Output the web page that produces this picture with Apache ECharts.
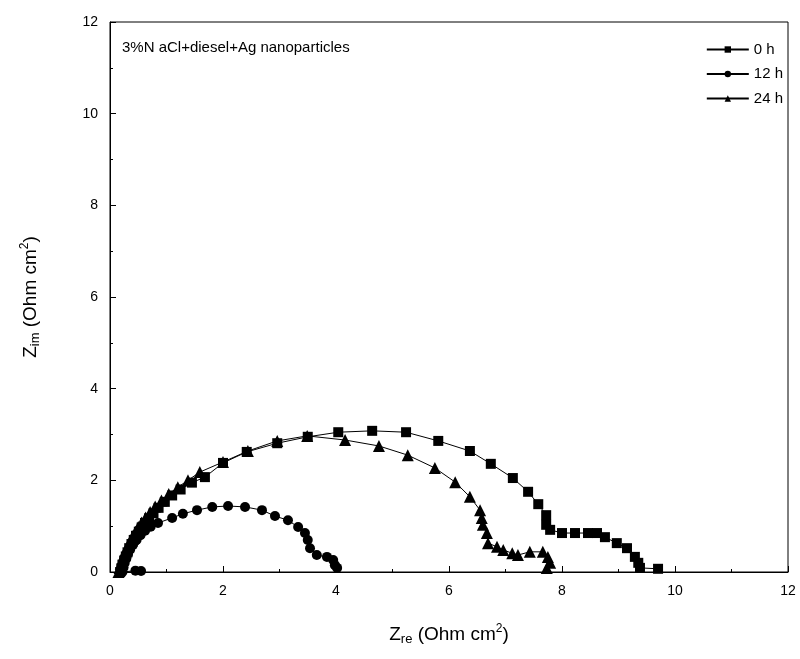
<!DOCTYPE html>
<html>
<head>
<meta charset="utf-8">
<script src="https://cdn.jsdelivr.net/npm/echarts@6/dist/echarts.min.js"></script>
<style>html,body{margin:0;padding:0;background:#fff;}#c{width:800px;height:659px;}</style>
</head>
<body>
<div id="c"></div>
<script>
var seriesNames = ['0 h', '12 h', '24 h'];
var annotation = '3%N aCl+diesel+Ag nanoparticles';
var xTicks = [0, 2, 4, 6, 8, 10, 12];
var yTicks = [0, 2, 4, 6, 8, 10, 12];

var s0h = [
  [0.18,0.0],[0.2,0.08],[0.22,0.16],[0.25,0.25],[0.28,0.34],[0.31,0.43],[0.34,0.52],[0.38,0.61],
  [0.42,0.70],[0.46,0.79],[0.51,0.88],[0.56,0.97],[0.62,1.07],[0.69,1.17],[0.77,1.28],[0.86,1.40],
  [0.97,1.53],[1.1,1.67],[1.25,1.80],[1.45,1.95],[1.68,2.07],[2.0,2.38],[2.42,2.62],[2.96,2.81],
  [3.5,2.95],[4.04,3.05],[4.64,3.08],[5.24,3.05],[5.81,2.86],[6.37,2.64],[6.74,2.36],[7.13,2.05],
  [7.40,1.75],[7.58,1.48],[7.72,1.24],[7.72,1.03],[7.79,0.92],[8.0,0.85],[8.23,0.85],[8.46,0.85],
  [8.62,0.85],[8.76,0.76],[8.97,0.63],[9.15,0.52],[9.29,0.33],[9.35,0.2],[9.38,0.09],[9.70,0.07]
];
var s12h = [
  [0.55,0.02],[0.45,0.03],[0.22,0.0],[0.24,0.1],[0.26,0.2],[0.29,0.3],[0.32,0.4],[0.36,0.5],
  [0.41,0.6],[0.47,0.7],[0.54,0.8],[0.62,0.9],[0.72,0.99],[0.85,1.07],[1.1,1.18],[1.29,1.27],
  [1.54,1.35],[1.81,1.42],[2.09,1.44],[2.39,1.42],[2.69,1.35],[2.92,1.22],[3.15,1.13],[3.33,0.98],
  [3.45,0.85],[3.5,0.70],[3.54,0.52],[3.66,0.37],[3.84,0.33],[3.95,0.26],[3.98,0.15],[4.02,0.09]
];
var s24h = [
  [0.15,0.0],[0.17,0.09],[0.19,0.18],[0.22,0.28],[0.25,0.38],[0.28,0.48],[0.32,0.58],[0.36,0.68],
  [0.4,0.78],[0.45,0.88],[0.5,0.98],[0.56,1.08],[0.63,1.19],[0.71,1.31],[0.8,1.43],[0.91,1.56],
  [1.04,1.70],[1.2,1.85],[1.38,2.0],[1.59,2.18],[2.0,2.40],[2.44,2.64],[2.96,2.86],[3.49,2.97],
  [4.16,2.88],[4.76,2.75],[5.27,2.55],[5.75,2.27],[6.11,1.96],[6.37,1.64],[6.55,1.35],[6.58,1.18],
  [6.60,1.03],[6.67,0.85],[6.69,0.63],[6.85,0.55],[6.96,0.48],[7.12,0.41],[7.22,0.37],[7.43,0.44],
  [7.66,0.44],[7.75,0.33],[7.79,0.2],[7.73,0.09]
];

var chart = echarts.init(document.getElementById('c'), null, {renderer: 'canvas'});
var font = 'Liberation Sans, Arial, sans-serif';
var nameRich = {
  base: {fontSize: 19, fontFamily: font, color: '#000'},
  sub: {fontSize: 13, fontFamily: font, color: '#000', verticalAlign: 'bottom', padding: [10, 0, 0, 0]},
  sup: {fontSize: 12, fontFamily: font, color: '#000', verticalAlign: 'top', padding: [0, 0, 10, 0]}
};
function mkSeries(name, data, symbol, size) {
  return {
    name: name, type: 'line', data: data, symbol: symbol, symbolSize: size,
    showAllSymbol: true, smooth: false,
    lineStyle: {color: '#000', width: 1},
    itemStyle: {color: '#000', borderWidth: 0},
    emphasis: {disabled: true}, animation: false
  };
}
chart.setOption({
  backgroundColor: '#fff',
  animation: false,
  grid: {left: 110, right: 12, top: 22, bottom: 87, show: true, borderColor: '#000', borderWidth: 1, backgroundColor: 'transparent'},
  xAxis: {
    type: 'value', min: xTicks[0], max: xTicks[xTicks.length - 1], interval: 2,
    name: '{base|Z}{sub|re}{base| (Ohm cm}{sup|2}{base|)}',
    nameLocation: 'middle', nameGap: 51,
    nameTextStyle: {rich: nameRich},
    axisLine: {show: true, lineStyle: {color: '#000', width: 1}},
    axisTick: {show: true, inside: true, length: 6, lineStyle: {color: '#000'}},
    minorTick: {show: true, splitNumber: 2, length: 3, lineStyle: {color: '#000'}},
    splitLine: {show: false},
    axisLabel: {color: '#000', fontSize: 14, fontFamily: font, margin: 12}
  },
  yAxis: {
    type: 'value', min: yTicks[0], max: yTicks[yTicks.length - 1], interval: 2,
    name: '{base|Z}{sub|im}{base| (Ohm cm}{sup|2}{base|)}',
    nameLocation: 'middle', nameGap: 68, nameRotate: 90,
    nameTextStyle: {rich: nameRich},
    axisLine: {show: true, lineStyle: {color: '#000', width: 1}},
    axisTick: {show: true, inside: true, length: 6, lineStyle: {color: '#000'}},
    minorTick: {show: true, splitNumber: 2, length: 3, lineStyle: {color: '#000'}},
    splitLine: {show: false},
    axisLabel: {color: '#000', fontSize: 14, fontFamily: font, margin: 12}
  },
  legend: {
    orient: 'vertical', right: 12, top: 37,
    itemWidth: 42, itemHeight: 8, itemGap: 9.5,
    textStyle: {color: '#000', fontSize: 15, fontFamily: font},
    data: seriesNames
  },
  graphic: [{
    type: 'text', left: 122, top: 40,
    style: {text: annotation, fill: '#000', fontSize: 15, fontFamily: font}
  }],
  series: [
    mkSeries(seriesNames[0], s0h, 'rect', 10),
    mkSeries(seriesNames[1], s12h, 'circle', 10),
    mkSeries(seriesNames[2], s24h, 'triangle', 12)
  ]
});
</script>
</body>
</html>
